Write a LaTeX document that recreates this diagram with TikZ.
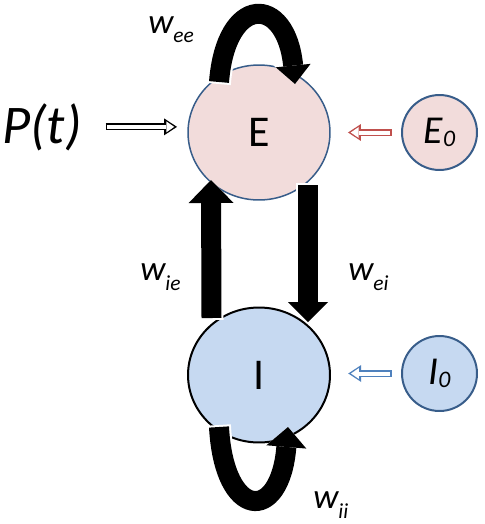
\documentclass[tikz,border=0pt]{standalone}
\usepackage{fontspec}
\setmainfont{Carlito}
\usetikzlibrary{arrows.meta}
\usetikzlibrary{calc}
\usetikzlibrary{shapes.geometric}

\definecolor{epink}{RGB}{242,220,219}
\definecolor{iblue}{RGB}{198,217,241}
\definecolor{rimblue}{RGB}{56,93,138}
\definecolor{inred}{RGB}{192,80,77}
\definecolor{inblue}{RGB}{79,129,189}

\newcommand{\wlab}[1]{\fontsize{20}{24}\selectfont\itshape w\raisebox{-0.2cm}{\fontsize{12.2}{14}\selectfont #1}}
\newcommand{\drive}[1]{\fontsize{22.5}{26}\selectfont\itshape #1\raisebox{-0.06cm}{\fontsize{13.5}{16}\selectfont 0}}

\begin{document}
\begin{tikzpicture}[x=0.02cm,y=-0.02cm,
    pop/.style={ellipse, minimum width=2.84cm, minimum height=2.7cm, inner sep=0pt, font=\fontsize{25}{30}\selectfont},
    ext/.style={ellipse, minimum width=1.5cm, minimum height=1.5cm, inner sep=0pt, draw=rimblue, line width=0.04cm},
    blk/.style 2 args={line width=0.4cm, -{Triangle[width=#1,length=#2,line width=0pt]},
        preaction={draw=white, line width=0.48cm, shorten <=-0.04cm, -{Triangle[width=#1,length=#2,line width=0pt,scale=1.12]}}},
    hollow/.style={draw=white, line width=0.08cm, -{Triangle[width=0.22cm,length=0.16cm,line width=0pt]},
        preaction={draw=#1, line width=0.14cm, shorten >=-0.055cm, shorten <=-0.03cm, -{Triangle[width=0.34cm,length=0.26cm,line width=0pt]}}},
    hollow/.default=black]
  \useasboundingbox (0,0) rectangle (484,524);
  \node[pop, fill=epink, draw=rimblue, line width=0.03cm] (E) at (259,132.5) {E};
  \node[pop, fill=iblue, draw=black, line width=0.04cm] (I) at (259,375) {I};
  \node[ext, fill=epink] (E0) at (439.5,132.5) {\drive{E}};
  \node[ext, fill=iblue] (I0) at (439.5,373.5) {\drive{I}};
  \node[anchor=base, inner sep=0pt, font=\fontsize{31}{36}\selectfont\itshape] (Pt) at (42,143) {P(t)};
  % inputs
  \draw[hollow] ($(Pt.east)+(25,0)$) -- ($(E.west |- Pt.east)+(-13,0)$);
  \draw[hollow=inred] ($(E0.west)+(-11,0)$) -- ($(E.east)+(20,0)$);
  \draw[hollow=inblue] ($(I0.west)+(-11,0)$) -- ($(I.east |- I0.west)+(20,0)$);
  % couplings
  \draw[blk={0.9cm}{0.46cm}] ($(I.center)+(-47.5,-57)$) -- ($(E.center)+(-48,47.5)$);
  \draw[blk={0.8cm}{0.4cm}] ($(E.center)+(49,52.5)$) -- ($(I.center)+(49,-53)$);
  \draw[blk={0.7cm}{0.37cm}] ($(E.center)+(-40,-50.5)$) .. controls +(7,-88) and +(-9,-90) .. ($(E.center)+(36,-48.5)$);
  \draw[blk={0.8cm}{0.4cm}] ($(I.center)+(-40,52)$) .. controls +(5,93) and +(-8,97) .. ($(I.center)+(29,52)$);
  \node[anchor=base west, inner sep=0pt] (wee) at (148,33) {\wlab{ee}};
  \node[anchor=base west, inner sep=0pt] (wie) at (140,280) {\wlab{ie}};
  \node[anchor=base west, inner sep=0pt] (wei) at (348,280) {\wlab{ei}};
  \node[anchor=base west, inner sep=0pt] (wii) at (313,508) {\wlab{ii}};
\end{tikzpicture}
\end{document}
